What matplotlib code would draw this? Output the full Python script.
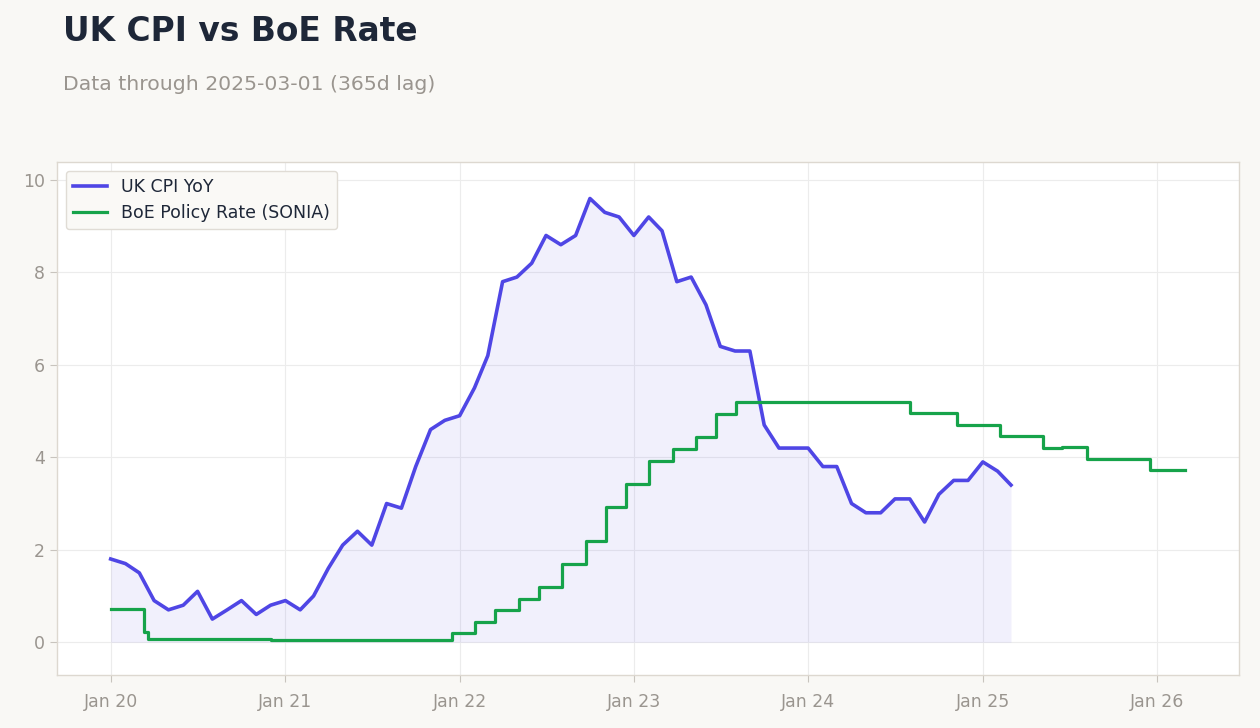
import numpy as np
import pandas as pd
import matplotlib
matplotlib.use("Agg")
import matplotlib.pyplot as plt
import matplotlib.dates as mdates

plt.rcParams["font.family"] = ["DejaVu Sans"]

# ==========================================================
# DATA
# ==========================================================

# UK CPI YoY (%), monthly Jan 2020 - Mar 2025
cpi_start = "2020-01-01"
cpi_values = [
    1.8, 1.7, 1.5, 0.9, 0.7, 0.8, 1.1, 0.5, 0.7, 0.9, 0.6, 0.8,
    0.9, 0.7, 1.0, 1.6, 2.1, 2.4, 2.1, 3.0, 2.9, 3.8, 4.6, 4.8,
    4.9, 5.5, 6.2, 7.8, 7.9, 8.2, 8.8, 8.6, 8.8, 9.6, 9.3, 9.2,
    8.8, 9.2, 8.9, 7.8, 7.9, 7.3, 6.4, 6.3, 6.3, 4.7, 4.2, 4.2,
    4.2, 3.8, 3.8, 3.0, 2.8, 2.8, 3.1, 3.1, 2.6, 3.2, 3.5, 3.5,
    3.9, 3.7, 3.4,
]

# BoE policy rate (SONIA, %), value from each change date
rate_dates = [
    "2020-01-01", "2020-03-11", "2020-03-19", "2020-07-01", "2020-12-01",
    "2021-12-16", "2022-02-03", "2022-03-17", "2022-05-05", "2022-06-16",
    "2022-08-04", "2022-09-22", "2022-11-03", "2022-12-15", "2023-02-02",
    "2023-03-23", "2023-05-11", "2023-06-22", "2023-08-03", "2024-04-01",
    "2024-08-01", "2024-11-07", "2025-02-06", "2025-05-08", "2025-06-15",
    "2025-08-07", "2025-12-18", "2026-03-01",
]
rate_values = [
    0.71, 0.22, 0.07, 0.06, 0.05,
    0.19, 0.44, 0.69, 0.94, 1.19,
    1.69, 2.19, 2.93, 3.43, 3.93,
    4.18, 4.43, 4.93, 5.19, 5.20,
    4.95, 4.70, 4.46, 4.21, 4.22,
    3.97, 3.72, 3.72,
]

cpi_dates = pd.date_range(cpi_start, periods=len(cpi_values), freq="MS")
rate_dates = pd.to_datetime(rate_dates)

# ==========================================================
# PLOT
# ==========================================================

bg = "#f9f8f5"
cpi_color = "#4f46e5"
rate_color = "#16a34a"
muted = "#9a958f"
dark = "#1e2738"

fig = plt.figure(figsize=(12.6, 7.28), dpi=100, facecolor=bg)
ax = fig.add_axes([0.0452, 0.0728, 0.9381, 0.7047])
ax.set_facecolor("white")

ax.fill_between(cpi_dates, cpi_values, 0, color=cpi_color, alpha=0.08, linewidth=0)
ax.plot(cpi_dates, cpi_values, color=cpi_color, linewidth=2.6, label="UK CPI YoY")
ax.plot(rate_dates, rate_values, color=rate_color, linewidth=2.3,
        drawstyle="steps-post", label="BoE Policy Rate (SONIA)")

ax.set_ylim(-0.71, 10.39)
ax.set_yticks([0, 2, 4, 6, 8, 10])

ax.xaxis.set_major_locator(mdates.YearLocator())
ax.xaxis.set_major_formatter(mdates.DateFormatter("%b %y"))

ax.grid(True, color="#ececec", linewidth=0.8)
ax.set_axisbelow(True)

for s in ax.spines.values():
    s.set_color("#ddd8d0")
    s.set_linewidth(1.0)

ax.tick_params(axis="both", colors="#c8c4be", labelcolor=muted, labelsize=12.5, length=5)
ax.tick_params(axis="x", pad=8)

leg = ax.legend(loc="upper left", fontsize=12.5, frameon=True, facecolor="#faf9f6",
                edgecolor="#e0dcd5", framealpha=1.0, handlelength=2.0)
for t in leg.get_texts():
    t.set_color(dark)

fig.text(0.05, 0.944, "UK CPI vs BoE Rate", fontsize=23.7, fontweight="bold",
         color=dark, va="baseline", ha="left")
fig.text(0.05, 0.876, "Data through 2025-03-01 (365d lag)", fontsize=14.7,
         color=muted, va="baseline", ha="left")

fig.savefig("out.png", dpi=100, facecolor=bg)
